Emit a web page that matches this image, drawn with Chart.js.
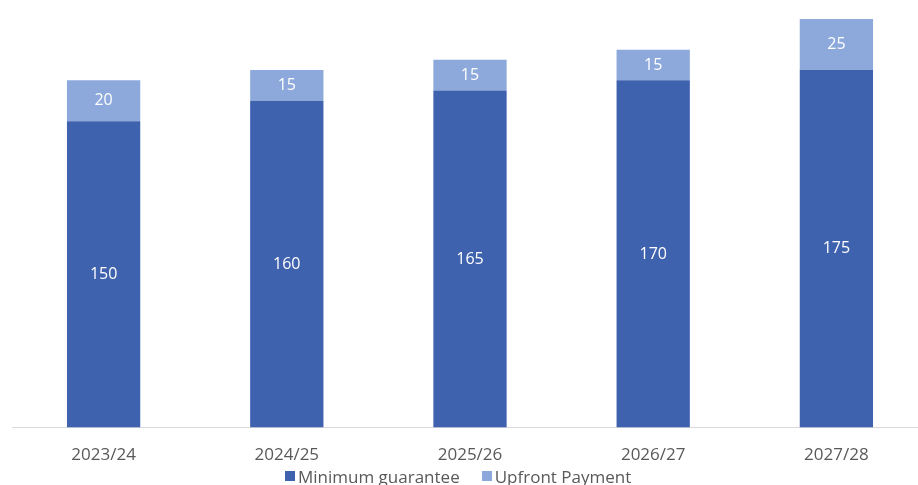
<!DOCTYPE html>
<html>
<head>
<meta charset="utf-8">
<script src="https://cdn.jsdelivr.net/npm/chart.js@4"></script>
<style>
  html, body { margin: 0; padding: 0; background: #fff; overflow: hidden; }
  #wrap { position: relative; width: 930px; height: 474px; }
  #leyenda {
    position: absolute; left: 285px; top: 466px; height: 20px;
    display: flex; align-items: center; gap: 22px;
    font-family: 'Open Sans', sans-serif; font-size: 17px; color: #595959;
  }
  #leyenda span.caja { display: inline-block; width: 10px; height: 10px; margin-right: 3px; vertical-align: middle; }
  #leyenda div { display: flex; align-items: center; white-space: nowrap; }
</style>
</head>
<body>
<div id="wrap"><canvas id="grafico"></canvas></div>
<div id="leyenda"></div>
<script>
const categorias = ["2023/24", "2024/25", "2025/26", "2026/27", "2027/28"];
const minimoGarantizado = [150, 160, 165, 170, 175];
const pagoInicial = [20, 15, 15, 15, 25];
const nombresSeries = ["Minimum guarantee", "Upfront Payment"];
const colores = ["#3F62AE", "#8DA9DB"];

// etiquetas blancas en el centro de cada segmento
const etiquetas = {
  id: "etiquetas",
  afterDatasetsDraw(chart) {
    const ctx = chart.ctx;
    ctx.save();
    ctx.fillStyle = "#ffffff";
    ctx.font = "16px 'Open Sans', sans-serif";
    ctx.textAlign = "center";
    ctx.textBaseline = "middle";
    chart.data.datasets.forEach((ds, d) => {
      chart.getDatasetMeta(d).data.forEach((bar, i) => {
        const y = (bar.y + bar.base) / 2;
        ctx.fillText(ds.data[i], bar.x, y);
      });
    });
    ctx.restore();
  },
};

const chart = new Chart(document.getElementById("grafico"), {
  type: "bar",
  data: {
    labels: categorias,
    datasets: [
      { label: nombresSeries[0], data: minimoGarantizado, backgroundColor: colores[0] },
      { label: nombresSeries[1], data: pagoInicial, backgroundColor: colores[1] },
    ],
  },
  options: {
    responsive: true,
    maintainAspectRatio: false,
    animation: false,
    layout: { padding: { top: 19, left: 12, right: 2, bottom: 0 } },
    datasets: { bar: { barPercentage: 0.4, categoryPercentage: 1 } },
    scales: {
      x: {
        stacked: true,
        grid: { display: false },
        border: { color: "#D9D9D9", width: 1 },
        ticks: { color: "#595959", font: { size: 17, family: "'Open Sans', sans-serif" }, padding: 9 },
      },
      y: { stacked: true, display: false, min: 0, max: 200 },
    },
    plugins: {
      legend: { display: false },
      tooltip: { enabled: false },
    },
  },
  plugins: [etiquetas],
});

// leyenda en html
const leyenda = document.getElementById("leyenda");
chart.data.datasets.forEach((ds) => {
  const item = document.createElement("div");
  const caja = document.createElement("span");
  caja.className = "caja";
  caja.style.background = ds.backgroundColor;
  item.appendChild(caja);
  item.appendChild(document.createTextNode(ds.label));
  leyenda.appendChild(item);
});
</script>
</body>
</html>
